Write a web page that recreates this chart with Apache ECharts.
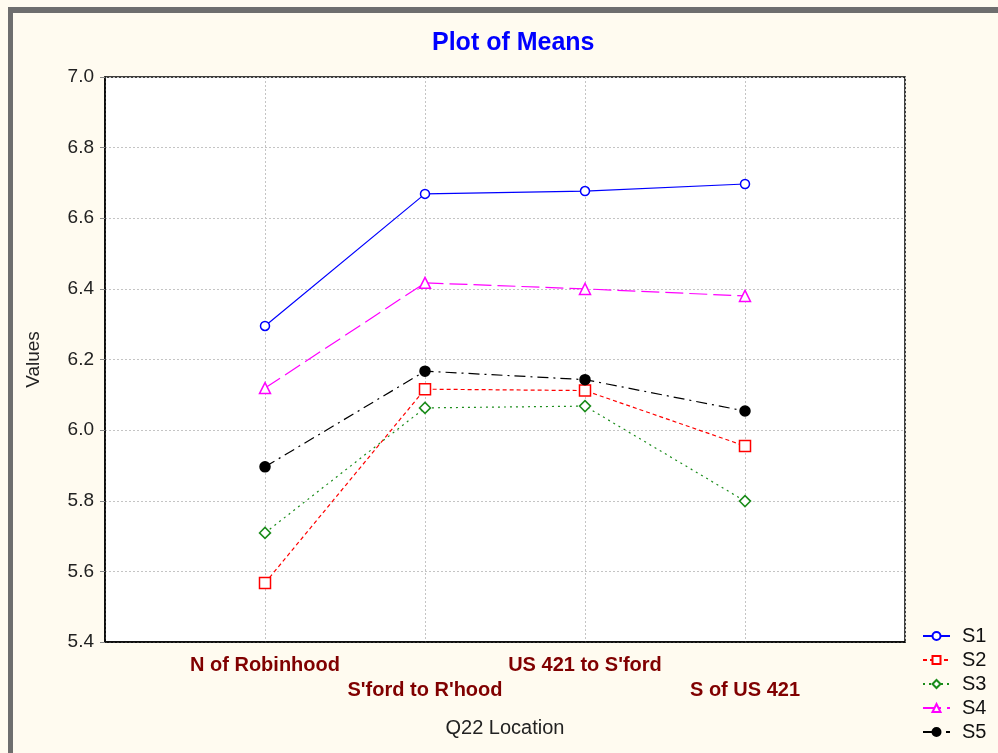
<!DOCTYPE html>
<html>
<head>
<meta charset="utf-8">
<title>Plot of Means</title>
<script src="https://cdn.jsdelivr.net/npm/echarts@6/dist/echarts.min.js"></script>
<style>
  html, body { margin: 0; padding: 0; background: #ffffff; }
  #chart { width: 998px; height: 753px; }
</style>
</head>
<body>
<div id="chart"></div>
<script>
// Locations along the x axis
const categories = ['N of Robinhood', "S'ford to R'hood", "US 421 to S'ford", 'S of US 421'];

// Mean values per series at each location
const s1 = [6.295, 6.669, 6.677, 6.697];
const s2 = [5.567, 6.116, 6.112, 5.955];
const s3 = [5.709, 6.063, 6.068, 5.799];
const s4 = [6.119, 6.417, 6.400, 6.380];
const s5 = [5.896, 6.167, 6.143, 6.054];

const yTicks = [5.4, 5.6, 5.8, 6.0, 6.2, 6.4, 6.6, 6.8, 7.0];

// Categories sit at positions 1..n on a 0..n+1 value axis
const toPoints = vals => vals.map((v, i) => [i + 1, v]);

const chart = echarts.init(document.getElementById('chart'), null, { renderer: 'canvas' });

const seriesDefs = [
  { name: 'S1', data: s1, color: '#0000ff', symbol: 'circle', size: 9, fill: false, dash: 'solid' },
  { name: 'S2', data: s2, color: '#ff0000', symbol: 'rect', size: 11, fill: false, dash: [4, 3] },
  { name: 'S3', data: s3, color: '#1a8c1a', symbol: 'diamond', size: 11, fill: false, dash: [2, 4] },
  { name: 'S4', data: s4, color: '#ff00ff', symbol: 'triangle', size: 11, fill: false, dash: [18, 6] },
  { name: 'S5', data: s5, color: '#000000', symbol: 'circle', size: 10, fill: true, dash: [11, 5, 2, 5] }
];

chart.setOption({
  animation: false,
  backgroundColor: '#fffbf0',
  title: {
    text: 'Plot of Means',
    left: 427,
    top: 26,
    textStyle: { color: '#0000ff', fontFamily: 'Liberation Sans, Arial', fontWeight: 'bold', fontSize: 25 }
  },
  graphic: [
    { type: 'rect', shape: { x: 8, y: 7, width: 990, height: 6 }, style: { fill: '#6e6e6e' } },
    { type: 'rect', shape: { x: 8, y: 7, width: 5, height: 746 }, style: { fill: '#6e6e6e' } }
  ],
  legend: {
    orient: 'vertical',
    left: 917,
    top: 621,
    itemWidth: 27,
    itemHeight: 10,
    itemGap: 4,
    textStyle: { fontFamily: 'Liberation Sans, Arial', fontSize: 20, color: '#111', padding: [0, 0, 0, 7] },
    data: seriesDefs.map(s => s.name)
  },
  grid: {
    left: 105,
    right: 93,
    top: 77,
    bottom: 111,
    show: true,
    backgroundColor: '#ffffff',
    borderColor: '#000000',
    borderWidth: 1.5
  },
  xAxis: {
    type: 'value',
    min: 0,
    max: categories.length + 1,
    interval: 1,
    name: 'Q22 Location',
    nameLocation: 'middle',
    nameGap: 76,
    nameTextStyle: { fontFamily: 'Liberation Sans, Arial', fontSize: 20, color: '#222' },
    axisLine: { show: true, lineStyle: { color: '#000', width: 1.5 } },
    axisTick: { show: false },
    splitLine: {
      show: true,
      lineStyle: { color: '#c4c4c4', type: [2, 2], width: 1 }
    },
    axisLabel: {
      margin: 11,
      lineHeight: 25,
      fontFamily: 'Liberation Sans, Arial',
      fontWeight: 'bold',
      fontSize: 20,
      color: '#800000',
      formatter: v => {
        const i = Math.round(v) - 1;
        if (i < 0 || i >= categories.length) return '';
        return i % 2 === 0 ? categories[i] : '\n' + categories[i];
      }
    }
  },
  yAxis: {
    type: 'value',
    min: yTicks[0],
    max: yTicks[yTicks.length - 1],
    interval: 0.2,
    name: 'Values',
    nameLocation: 'middle',
    nameGap: 62,
    nameRotate: 90,
    nameTextStyle: { fontFamily: 'Liberation Sans, Arial', fontSize: 19, color: '#222' },
    axisLine: { show: true, lineStyle: { color: '#000', width: 1.5 } },
    axisTick: { show: true, length: 5, inside: false, lineStyle: { color: '#888' } },
    splitLine: { show: true, lineStyle: { color: '#c4c4c4', type: [2, 2], width: 1 } },
    axisLabel: {
      margin: 11,
      fontFamily: 'Liberation Sans, Arial',
      fontSize: 19,
      color: '#222',
      formatter: v => v.toFixed(1)
    }
  },
  series: seriesDefs.map(s => ({
    name: s.name,
    type: 'line',
    data: toPoints(s.data),
    symbol: s.symbol,
    symbolSize: s.size,
    showAllSymbol: true,
    color: s.color,
    lineStyle: { color: s.color, width: 1.2, type: s.dash },
    itemStyle: {
      color: s.fill ? s.color : '#ffffff',
      borderColor: s.color,
      borderWidth: 1.5
    }
  }))
});
</script>
</body>
</html>
